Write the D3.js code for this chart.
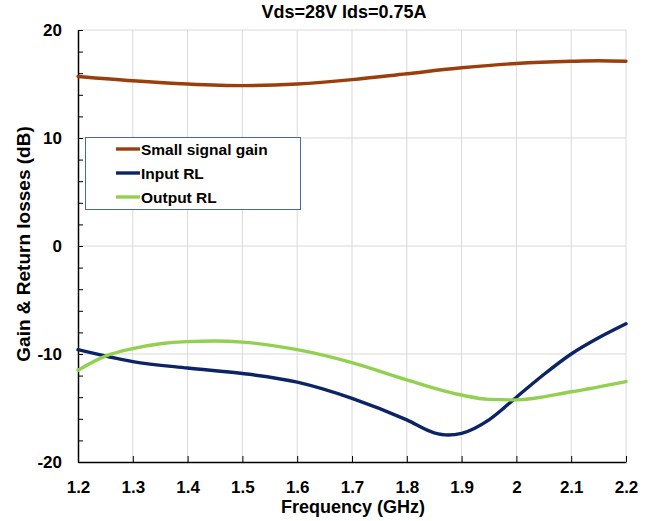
<!DOCTYPE html>
<html>
<head>
<meta charset="utf-8">
<script src="https://cdn.jsdelivr.net/npm/d3@7"></script>
<style>
  body { margin: 0; background: #fff; }
  text { font-family: "Liberation Sans", Arial, sans-serif; font-weight: bold; fill: #000; }
</style>
</head>
<body>
<svg id="chart" width="648" height="521"></svg>
<script>
//// chart data
var title = "Vds=28V Ids=0.75A";
var xTicks = [1.2, 1.3, 1.4, 1.5, 1.6, 1.7, 1.8, 1.9, 2, 2.1, 2.2];
var yTicks = [-20, -10, 0, 10, 20];

var gainFreq = [1.2, 1.3, 1.4, 1.5, 1.6, 1.7, 1.8, 1.9, 2.0, 2.1, 2.15, 2.2];
var gainVals = [15.7, 15.3, 15.0, 14.85, 15.0, 15.4, 15.95, 16.5, 16.9, 17.1, 17.15, 17.1];

var inFreq = [1.2, 1.3, 1.4, 1.5, 1.6, 1.7, 1.8, 1.85, 1.875, 1.9, 1.95, 2.0, 2.05, 2.1, 2.15, 2.2];
var inVals = [-9.6, -10.7, -11.3, -11.8, -12.6, -14.1, -16.1, -17.3, -17.5, -17.35, -16.1, -14.0, -11.9, -10.0, -8.5, -7.2];

var outFreq = [1.2, 1.25, 1.3, 1.35, 1.4, 1.45, 1.5, 1.6, 1.7, 1.8, 1.9, 1.95, 2.0, 2.1, 2.2];
var outVals = [-11.5, -10.2, -9.5, -9.05, -8.85, -8.8, -8.9, -9.6, -10.8, -12.4, -13.8, -14.2, -14.25, -13.5, -12.55];

var seriesNames = ["Small signal gain", "Input RL", "Output RL"];
var seriesColors = ["#9c3e0c", "#0c2466", "#92d050"];

//// layout
var svg = d3.select("svg#chart");
var plotL = 78, plotR = 626, plotT = 30, plotB = 462;

var x = d3.scaleLinear().domain([1.2, 2.2]).range([plotL, plotR]);
var y = d3.scaleLinear().domain([-20, 20]).range([plotB, plotT]);

// grid
svg.append("g").selectAll("line")
   .data(xTicks.slice(1))
   .enter().append("line")
   .attr("x1", d => x(d)).attr("x2", d => x(d))
   .attr("y1", plotT).attr("y2", plotB)
   .attr("stroke", "#d9d9d9").attr("stroke-width", 1);

svg.append("g").selectAll("line")
   .data(yTicks.slice(1))
   .enter().append("line")
   .attr("x1", plotL).attr("x2", plotR)
   .attr("y1", d => y(d)).attr("y2", d => y(d))
   .attr("stroke", "#d9d9d9").attr("stroke-width", 1);

// axes
var xAxis = d3.axisBottom(x).tickValues(xTicks).tickSize(-6).tickSizeOuter(0)
              .tickPadding(19).tickFormat(d3.format("~g"));
var gx = svg.append("g").attr("transform", "translate(0," + plotB + ")").call(xAxis);
gx.selectAll("text").style("font-size", "17px");

var yAxis = d3.axisLeft(y).ticks(20).tickSize(-5).tickSizeOuter(0)
              .tickPadding(16)
              .tickFormat(d => (yTicks.indexOf(d) >= 0 ? d : ""));
var gy = svg.append("g").attr("transform", "translate(" + plotL + ",0)").call(yAxis);
gy.selectAll("text").style("font-size", "17px");

svg.selectAll(".domain").attr("stroke", "#000").attr("stroke-width", 1.5);
svg.selectAll(".tick line").attr("stroke", "#000");

// titles
svg.append("text").attr("x", 344).attr("y", 18)
   .attr("text-anchor", "middle").style("font-size", "18px").text(title);
svg.append("text").attr("x", 353).attr("y", 513)
   .attr("text-anchor", "middle").style("font-size", "18px").text("Frequency (GHz)");
svg.append("text").attr("transform", "translate(30,244) rotate(-90)")
   .attr("text-anchor", "middle").style("font-size", "19px").text("Gain & Return losses (dB)");

// curves
var line = d3.line().curve(d3.curveMonotoneX)
             .x(d => x(d[0])).y(d => y(d[1]));

var series = [d3.zip(gainFreq, gainVals), d3.zip(inFreq, inVals), d3.zip(outFreq, outVals)];

svg.append("g").selectAll("path")
   .data(series)
   .enter().append("path")
   .attr("d", line)
   .attr("fill", "none")
   .attr("stroke", (d, i) => seriesColors[i])
   .attr("stroke-width", 3.4)
   .attr("stroke-linecap", "round");

// legend
var legend = svg.append("g");
legend.append("rect").attr("x", 85.5).attr("y", 137.5).attr("width", 215).attr("height", 72)
      .attr("fill", "#fff").attr("stroke", "#4a6899").attr("stroke-width", 1);
var rows = legend.selectAll("g.row")
   .data(seriesNames)
   .enter().append("g")
   .attr("transform", (d, i) => "translate(0," + [149, 173, 197][i] + ")");
rows.append("line").attr("x1", 116).attr("x2", 140).attr("y1", 0).attr("y2", 0)
    .attr("stroke", (d, i) => seriesColors[i]).attr("stroke-width", 3.4);
rows.append("text").attr("x", 141).attr("y", 5.5).style("font-size", "15.5px").text(d => d);
</script>
</body>
</html>
